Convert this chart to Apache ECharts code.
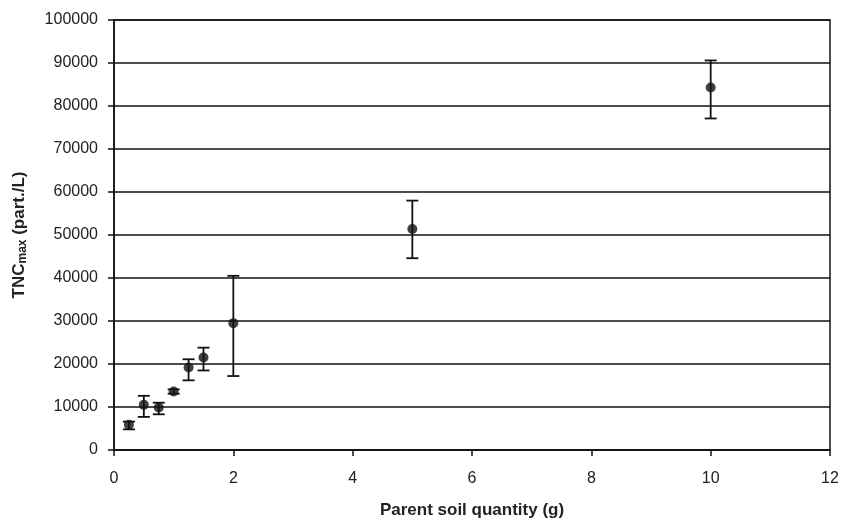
<!DOCTYPE html>
<html><head><meta charset="utf-8">
<script src="https://cdn.jsdelivr.net/npm/echarts@6/dist/echarts.min.js"></script>
<style>html,body{margin:0;padding:0;background:#fff}#c{width:842px;height:519px}</style>
</head><body><div id="c"></div>
<script>
var xVals = [0.25, 0.5, 0.75, 1, 1.25, 1.5, 2, 5, 10];
var yVals = [5900, 10500, 9900, 13600, 19200, 21500, 29500, 51400, 84300];
var yLow  = [4800, 7700, 8300, 13100, 16200, 18500, 17200, 44600, 77100];
var yHigh = [6600, 12600, 11000, 14100, 21100, 23800, 40500, 58000, 90600];
var xTicks = [0, 2, 4, 6, 8, 10, 12];
var yTicks = [0, 10000, 20000, 30000, 40000, 50000, 60000, 70000, 80000, 90000, 100000];

var pts = xVals.map(function(x, i){ return [x, yVals[i]]; });
var errs = xVals.map(function(x, i){ return [x, yLow[i], yHigh[i]]; });

var chart = echarts.init(document.getElementById('c'));
chart.setOption({
  animation: false,
  grid: {left: 114, right: 12, top: 20, bottom: 69, show: true, borderColor: '#111', borderWidth: 1.5,
         containLabel: false, outerBoundsMode: 'none'},
  xAxis: {
    type: 'value', min: xTicks[0], max: xTicks[xTicks.length-1], interval: 2,
    name: 'Parent soil quantity (g)', nameLocation: 'middle', nameGap: 52,
    nameTextStyle: {fontFamily: 'Liberation Sans', fontWeight: 'bold', fontSize: 17, color: '#222'},
    axisLine: {show: true, lineStyle: {color: '#111', width: 1.5}},
    axisTick: {show: true, length: 6, lineStyle: {color: '#111', width: 1.5}},
    axisLabel: {fontFamily: 'Liberation Sans', fontSize: 16, color: '#222', margin: 21,
      formatter: function(v){ return String(v); }},
    splitLine: {show: false}
  },
  yAxis: {
    type: 'value', min: yTicks[0], max: yTicks[yTicks.length-1], interval: 10000,
    name: '{b|TNC}{s|max}{b| (part./L)}', nameLocation: 'middle', nameGap: 85, nameRotate: 90,
    nameTextStyle: {rich: {
      b: {fontFamily: 'Liberation Sans', fontWeight: 'bold', fontSize: 17, color: '#222'},
      s: {fontFamily: 'Liberation Sans', fontWeight: 'bold', fontSize: 12, color: '#222', verticalAlign: 'bottom', padding: [8,0,0,0]}
    }},
    axisLine: {show: true, lineStyle: {color: '#111', width: 1.5}},
    axisTick: {show: true, length: 6, lineStyle: {color: '#111', width: 1.5}},
    axisLabel: {fontFamily: 'Liberation Sans', fontSize: 16, color: '#222', margin: 16,
      formatter: function(v){ return String(v); }},
    splitLine: {show: true, lineStyle: {color: '#111', width: 1.6}}
  },
  series: [
    {
      type: 'custom',
      data: errs,
      z: 3,
      renderItem: function(params, api){
        var x = api.value(0), lo = api.value(1), hi = api.value(2);
        var pLo = api.coord([x, lo]), pHi = api.coord([x, hi]);
        var w = 6;
        var st = {stroke: '#111', lineWidth: 1.8};
        return {type: 'group', children: [
          {type: 'line', shape: {x1: pLo[0], y1: pLo[1], x2: pHi[0], y2: pHi[1]}, style: st},
          {type: 'line', shape: {x1: pLo[0]-w, y1: pLo[1], x2: pLo[0]+w, y2: pLo[1]}, style: st},
          {type: 'line', shape: {x1: pHi[0]-w, y1: pHi[1], x2: pHi[0]+w, y2: pHi[1]}, style: st}
        ]};
      }
    },
    {
      type: 'scatter', data: pts, symbol: 'circle', symbolSize: 10, z: 4,
      itemStyle: {color: '#111'}
    }
  ]
});
</script></body></html>
